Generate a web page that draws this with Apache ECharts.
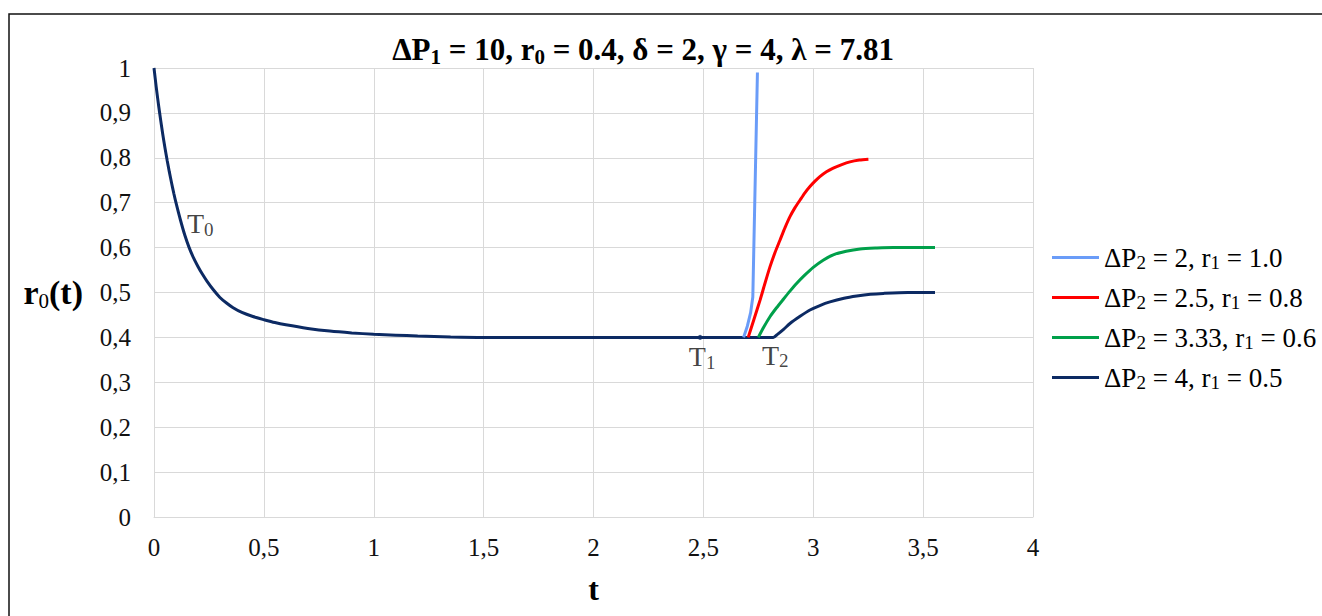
<!DOCTYPE html>
<html>
<head>
<meta charset="utf-8">
<script src="https://cdn.jsdelivr.net/npm/echarts@6/dist/echarts.min.js"></script>
<style>html,body{margin:0;padding:0;background:#fff;}#c{width:1322px;height:616px;}</style>
</head>
<body>
<div id="c"></div>
<script>
// Common decay part (navy), t and r0(t)
var baseT = [0, 0.01, 0.02, 0.03, 0.04, 0.05, 0.06, 0.07, 0.08, 0.09, 0.10, 0.12, 0.14, 0.16, 0.18, 0.20, 0.22, 0.24, 0.27, 0.30, 0.33, 0.36, 0.40, 0.45, 0.50, 0.55, 0.60, 0.70, 0.80, 0.90, 1.0, 1.1, 1.2, 1.35, 1.5, 2.0, 2.485, 2.683, 2.75, 2.818];
var baseR = [1.0, 0.958, 0.920, 0.885, 0.852, 0.822, 0.794, 0.768, 0.744, 0.721, 0.700, 0.662, 0.628, 0.600, 0.577, 0.558, 0.541, 0.526, 0.506, 0.489, 0.4765, 0.466, 0.4555, 0.4465, 0.4395, 0.433, 0.428, 0.420, 0.414, 0.410, 0.407, 0.405, 0.403, 0.401, 0.400, 0.400, 0.400, 0.400, 0.400, 0.400];

// Branches after T2
var blueT  = [2.683, 2.70, 2.715, 2.725, 2.746];
var blueR  = [0.40, 0.425, 0.455, 0.49, 0.99];
var redT   = [2.704, 2.73, 2.758, 2.78, 2.803, 2.826, 2.849, 2.872, 2.894, 2.917, 2.94, 2.962, 2.985, 3.008, 3.03, 3.06, 3.091, 3.13, 3.167, 3.21, 3.251];
var redR   = [0.40, 0.44, 0.483, 0.52, 0.557, 0.589, 0.617, 0.645, 0.669, 0.689, 0.706, 0.722, 0.736, 0.748, 0.758, 0.769, 0.777, 0.785, 0.791, 0.795, 0.797];
var greenT = [2.75, 2.775, 2.803, 2.833, 2.864, 2.894, 2.924, 2.96, 3.0, 3.045, 3.091, 3.15, 3.213, 3.29, 3.364, 3.46, 3.554];
var greenR = [0.40, 0.423, 0.446, 0.466, 0.485, 0.503, 0.520, 0.538, 0.556, 0.572, 0.584, 0.592, 0.597, 0.599, 0.600, 0.600, 0.600];
var navyT  = [2.84, 2.865, 2.894, 2.94, 2.985, 3.03, 3.076, 3.14, 3.198, 3.26, 3.319, 3.43, 3.554];
var navyR  = [0.408, 0.418, 0.431, 0.447, 0.461, 0.471, 0.479, 0.487, 0.492, 0.496, 0.498, 0.500, 0.500];

var dP2 = ['2', '2.5', '3.33', '4'];
var r1  = ['1.0', '0.8', '0.6', '0.5'];
var seriesColors = ['#6a9cf8', '#ff0000', '#00a04a', '#0c2a63'];
var seriesNames = dP2.map(function (d, i) { return 'ΔP₂ = ' + d + ', r₁ = ' + r1[i]; });

// Annotations T0, T1, T2
var markNames = ['0', '1', '2'];
var markT = [0.15, 2.485, 2.80];
var markR = [0.635, 0.40, 0.40];

function pairs(t, r) { return t.map(function (v, i) { return [v, r[i]]; }); }

var navyAll = pairs(baseT, baseR).concat(pairs(navyT, navyR));
var FONT = 'Liberation Serif, Times New Roman, serif';

var chart = echarts.init(document.getElementById('c'), null, { renderer: 'svg' });
var lineW = 3;

var markData = markNames.map(function (n, i) {
  var pos, off;
  if (i === 0) { pos = 'right'; off = [-4, -8]; }
  else if (i === 1) { pos = 'bottom'; off = [2, -2]; }
  else { pos = 'bottom'; off = [6, -1]; }
  return {
    value: [markT[i], markR[i]],
    symbolSize: i === 1 ? 5 : 0,
    label: { show: true, position: pos, offset: off, distance: 4,
      formatter: '{m|T}{s|' + n + '}' }
  };
});

chart.setOption({
  backgroundColor: '#fff',
  animation: false,
  title: {
    text: '{b|ΔP}{s|1}{b| = 10, r}{s|0}{b| = 0.4, δ = 2, γ = 4, λ = 7.81}',
    left: 638, top: 26, textAlign: 'center',
    textStyle: {
      rich: {
        b: { fontFamily: FONT, fontWeight: 'bold', fontSize: 31, color: '#000', lineHeight: 36, verticalAlign: 'middle' },
        s: { fontFamily: FONT, fontWeight: 'bold', fontSize: 21, color: '#000', verticalAlign: 'bottom', lineHeight: 25 }
      }
    }
  },
  grid: { left: 154, right: 289, top: 68, bottom: 99, containLabel: false },
  legend: {
    orient: 'vertical', left: 1047, top: 239,
    itemWidth: 47, itemHeight: 14, itemGap: 12.5,
    icon: 'path://M0,6 L47,6 L47,9 L0,9 Z',
    data: seriesNames,
    formatter: function (name) {
      var i = seriesNames.indexOf(name);
      return '{m|ΔP}{s|2}{m| = ' + dP2[i] + ', r}{s|1}{m| = ' + r1[i] + '}';
    },
    textStyle: {
      rich: {
        m: { fontFamily: FONT, fontSize: 27, color: '#000', lineHeight: 28, verticalAlign: 'middle' },
        s: { fontFamily: FONT, fontSize: 19, color: '#000', verticalAlign: 'bottom', lineHeight: 19 }
      }
    }
  },
  xAxis: {
    type: 'value', min: 0, max: 4, interval: 0.5,
    name: 't', nameLocation: 'middle', nameGap: 56,
    nameTextStyle: { fontFamily: FONT, fontWeight: 'bold', fontSize: 32, color: '#000' },
    axisLine: { show: true, lineStyle: { color: '#d9d9d9', width: 1 } },
    axisTick: { show: false },
    splitLine: { show: true, lineStyle: { color: '#d9d9d9', width: 1 } },
    axisLabel: { fontFamily: FONT, fontSize: 25, color: '#111', margin: 18,
      formatter: function (v) { return String(v).replace('.', ','); } }
  },
  yAxis: {
    type: 'value', min: 0, max: 1, interval: 0.1,
    name: '{b|r}{s|0}{b|(t)}', nameLocation: 'middle', nameRotate: 0, nameGap: 71,
    nameTextStyle: {
      align: 'right',
      rich: {
        b: { fontFamily: FONT, fontWeight: 'bold', fontSize: 34, color: '#000', lineHeight: 38, verticalAlign: 'middle' },
        s: { fontFamily: FONT, fontWeight: 'normal', fontSize: 21, color: '#000', verticalAlign: 'bottom', lineHeight: 25 }
      }
    },
    axisLine: { show: true, lineStyle: { color: '#d9d9d9', width: 1 } },
    axisTick: { show: false },
    splitLine: { show: true, lineStyle: { color: '#d9d9d9', width: 1 } },
    axisLabel: { fontFamily: FONT, fontSize: 25, color: '#111', margin: 23,
      formatter: function (v) { return (Math.round(v * 10) / 10).toString().replace('.', ','); } }
  },
  series: [
    { name: seriesNames[3], type: 'line', data: navyAll, showSymbol: false, symbol: 'none', smooth: 0.25, z: 1,
      lineStyle: { color: seriesColors[3], width: lineW }, itemStyle: { color: seriesColors[3] } },
    { name: seriesNames[0], type: 'line', data: pairs(blueT, blueR), showSymbol: false, symbol: 'none', smooth: false, z: 3,
      lineStyle: { color: seriesColors[0], width: lineW }, itemStyle: { color: seriesColors[0] } },
    { name: seriesNames[1], type: 'line', data: pairs(redT, redR), showSymbol: false, symbol: 'none', smooth: 0.25, z: 3,
      lineStyle: { color: seriesColors[1], width: lineW }, itemStyle: { color: seriesColors[1] } },
    { name: seriesNames[2], type: 'line', data: pairs(greenT, greenR), showSymbol: false, symbol: 'none', smooth: 0.25, z: 3,
      lineStyle: { color: seriesColors[2], width: lineW }, itemStyle: { color: seriesColors[2] } },
    { name: 'marks', type: 'scatter', data: markData, z: 5, symbol: 'circle',
      itemStyle: { color: '#0c2a63' },
      label: {
        rich: {
          m: { fontFamily: FONT, fontSize: 28, color: '#111', lineHeight: 30, verticalAlign: 'middle' },
          s: { fontFamily: FONT, fontSize: 19, color: '#111', verticalAlign: 'bottom', lineHeight: 20 }
        }
      }
    }
  ],
  graphic: [
    { type: 'polyline', silent: true, shape: { points: [[9, 616], [9, 14], [1322, 14]] },
      style: { stroke: '#111', lineWidth: 1.5, fill: null } }
  ]
});
</script>
</body>
</html>
